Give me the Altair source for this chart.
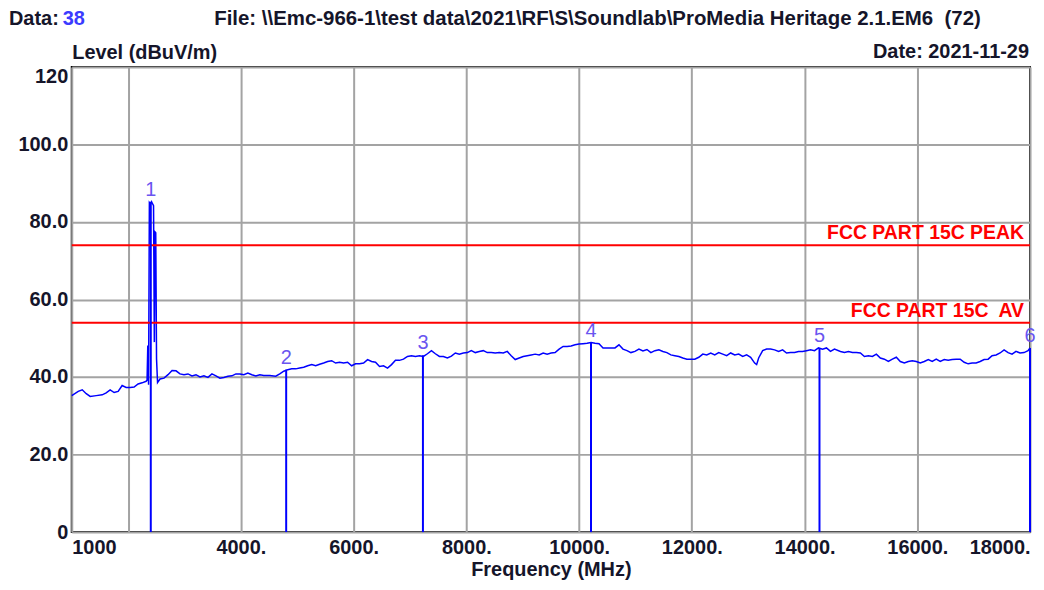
import altair as alt
import pandas as pd

# ---- data ----
freq_mhz = [
    1000, 1115, 1186, 1257, 1327, 1434, 1540, 1611, 1681, 1752, 1823, 1894, 1965, 2035, 2106, 2177, 2248, 2319,
    2336, 2349, 2363, 2377, 2398, 2416, 2434, 2451, 2465, 2478, 2490, 2504, 2522,
    2566, 2637, 2708, 2779, 2850, 2920, 2991, 3062, 3133, 3204, 3274, 3345, 3416, 3487, 3558, 3628, 3699, 3770,
    3841, 3912, 3982, 4053, 4124, 4195, 4265, 4336, 4407,
    4513, 4619, 4690, 4761, 4832, 4903, 4973, 5044, 5115, 5186, 5257, 5327, 5398, 5469, 5540, 5611, 5681, 5752,
    5823, 5894, 5965, 6035, 6106, 6177, 6248, 6319, 6389, 6460, 6531, 6602, 6673, 6743, 6814, 6885, 6956, 7027,
    7097, 7168, 7239, 7310, 7381, 7451, 7522, 7593, 7664, 7735, 7805,
    7876, 7947, 8018, 8089, 8159, 8230, 8301, 8372, 8442, 8513, 8584, 8655, 8726, 8796, 8867, 8938, 9009, 9080,
    9150, 9221, 9292, 9363, 9434, 9504, 9575, 9646, 9717, 9788, 9858, 9929, 10000, 10071, 10142, 10212, 10283,
    10354, 10425, 10496, 10566, 10637, 10708, 10779, 10850, 10920, 10991, 11062,
    11133, 11204, 11274, 11345, 11416, 11487, 11558, 11628, 11699, 11770, 11841, 11912, 11982, 12053, 12124,
    12195, 12265, 12336, 12407, 12478, 12549, 12619, 12690, 12761, 12832, 12903, 12973, 13044, 13115, 13150,
    13186, 13257, 13327, 13398, 13469, 13540, 13611, 13681, 13752, 13823, 13894, 13965, 14035, 14106, 14177,
    14248, 14319, 14389, 14460, 14531,
    14637, 14708, 14779, 14850, 14920, 14991, 15062, 15133, 15204, 15274, 15345, 15416, 15487, 15558, 15628,
    15699, 15770, 15841, 15912, 15982, 16053, 16124, 16195, 16265, 16336, 16407, 16478, 16549, 16619, 16690,
    16761, 16832, 16903, 16973, 17044, 17115, 17186, 17257, 17327, 17398, 17469, 17540, 17611, 17681, 17752,
    17823, 17894, 17965, 18000,
]
level_dbuv = [
    35.2, 36.3, 36.7, 35.7, 35.0, 35.2, 35.4, 35.9, 36.7, 36.0, 36.3, 37.8, 37.3, 37.3, 37.4, 38.2, 38.5, 38.9,
    39.2, 48.1, 38.0, 85.0, 84.6, 85.2, 84.7, 84.2, 49.0, 77.4, 77.2, 44.7, 38.6,
    39.5, 39.7, 40.6, 41.7, 41.6, 40.8, 40.6, 40.8, 40.3, 40.6, 40.0, 40.3, 39.9, 40.8, 40.3, 39.7, 39.9, 40.2,
    40.3, 40.8, 40.8, 40.6, 41.0, 40.6, 40.3, 40.6, 40.4,
    40.4, 40.2, 40.8, 41.5, 41.9, 42.1, 42.1, 42.3, 42.5, 42.9, 43.2, 42.9, 43.3, 43.6, 44.0, 44.2, 43.6, 43.8,
    43.6, 43.8, 42.9, 43.4, 43.4, 43.6, 44.5, 44.0, 43.8, 42.7, 42.9, 42.3, 43.2, 44.3, 44.3, 44.6, 45.3, 45.5,
    45.3, 45.5, 45.3, 46.0, 46.8, 46.0, 45.3, 45.3, 44.9, 45.4, 46.2,
    45.9, 46.2, 46.3, 46.8, 46.3, 46.6, 46.8, 46.3, 46.3, 46.2, 46.3, 46.2, 46.6, 45.5, 44.5, 44.9, 45.3, 45.5,
    45.7, 45.9, 45.7, 46.2, 45.9, 46.2, 46.3, 47.2, 47.9, 47.9, 48.0, 48.3, 48.5, 48.6, 48.7, 48.9, 48.7,
    48.6, 47.5, 47.5, 47.5, 47.5, 48.3, 47.2, 46.8, 46.3, 46.6, 47.2,
    46.7, 47.1, 46.3, 46.8, 47.0, 46.6, 46.3, 45.7, 45.5, 45.3, 44.9, 44.6, 44.6, 44.6, 45.1,
    45.9, 45.7, 46.2, 45.7, 46.3, 45.9, 45.5, 46.2, 45.7, 45.9, 45.3, 45.7, 45.1, 43.6, 43.2,
    44.9, 46.8, 47.2, 47.2, 47.0, 46.6, 47.0, 46.2, 46.3, 46.3, 46.6, 46.6, 46.8, 47.0, 46.8,
    47.5, 47.2, 47.5, 46.6, 47.2,
    46.6, 46.3, 46.6, 46.3, 46.3, 46.2, 45.3, 45.5, 45.3, 45.9, 44.9, 44.6, 44.0, 44.6, 45.1,
    44.0, 43.6, 44.0, 44.2, 44.0, 43.6, 44.0, 44.5, 44.0, 44.6, 44.0, 44.5, 44.3, 44.5, 44.6,
    44.6, 43.8, 43.4, 43.6, 43.6, 44.0, 44.5, 44.6, 45.5, 45.7, 46.2, 47.0, 46.3, 45.9, 46.6,
    46.2, 46.3, 46.8, 47.5,
]

marker_ids = ["1", "2", "3", "4", "5", "6"]
marker_freq = [2402, 4804, 7230, 10212, 14265, 18000]
marker_level = [85.2, 41.9, 45.6, 48.9, 47.5, 47.5]

limit_names = ["FCC PART 15C PEAK", "FCC PART 15C\u00a0 AV"]
limit_level = [74.0, 54.0]

x_ticks = [1000, 2000, 4000, 6000, 8000, 10000, 12000, 14000, 16000, 18000]
y_ticks = [0, 20, 40, 60, 80, 100, 120]

header_data = "Data: "
header_data_no = "38"
header_file = r"File: \\Emc-966-1\test data\2021\RF\S\Soundlab\ProMedia Heritage 2.1.EM6" + "\u00a0 (72)"
header_date = "Date: 2021-11-29"

FONT = "Liberation Sans"
FS = 20
TXT = "#15152a"
BLUE = "#0000ff"
RED = "#ff0000"

spec = pd.DataFrame({"f": freq_mhz, "lvl": level_dbuv})
mk = pd.DataFrame({"id": marker_ids, "f": marker_freq, "lvl": marker_level})
lim = pd.DataFrame({"name": limit_names, "lvl": limit_level})
one = pd.DataFrame({"k": [0]})

xscale = alt.Scale(domain=[1000, 18000], nice=False, zero=False)
yscale = alt.Scale(domain=[0, 120], nice=False)

xaxis = alt.Axis(
    values=x_ticks,
    labelExpr="datum.value == 1000 ? '1000' : datum.value == 2000 ? '' : datum.value + '.'",
    labelAlign={
        "condition": [
            {"test": "datum.value == 1000", "value": "left"},
            {"test": "datum.value == 18000", "value": "right"},
        ],
        "value": "center",
    },
    labelFont=FONT, labelFontSize=FS, labelFontWeight="bold", labelColor=TXT,
    labelPadding=6, labelOverlap=False, labelBound=False, labelFlush=False,
    ticks=False, domain=False,
    grid=True, gridColor="#a3a3a3", gridWidth=2,
    title="Frequency (MHz)", titleFont=FONT, titleFontSize=FS, titleFontWeight="bold",
    titleColor=TXT, titleBaseline="alphabetic", titleY=44,
)
yaxis = alt.Axis(
    values=y_ticks,
    labelExpr="datum.value == 0 ? '0' : datum.value == 120 ? '120' : format(datum.value, '.1f')",
    labelBaseline={"condition": {"test": "datum.value == 120", "value": "top"}, "value": "middle"},
    labelFont=FONT, labelFontSize=FS, labelFontWeight="bold", labelColor=TXT,
    labelPadding=4, labelOverlap=False, labelBound=False, labelFlush=False,
    ticks=False, domain=False,
    grid=True, gridColor="#a3a3a3", gridWidth=2,
    title="Level (dBuV/m)", titleFont=FONT, titleFontSize=FS, titleFontWeight="bold",
    titleColor=TXT, titleAngle=0, titleAlign="left", titleBaseline="alphabetic",
    titleX=0, titleY=-8,
)

line = alt.Chart(spec).mark_line(color=BLUE, strokeWidth=1.5, interpolate="linear").encode(
    x=alt.X("f:Q", scale=xscale, axis=xaxis),
    y=alt.Y("lvl:Q", scale=yscale, axis=yaxis),
)

limits = alt.Chart(lim).mark_rule(color=RED, strokeWidth=2).encode(
    y=alt.Y("lvl:Q", scale=yscale),
)
limit_text = alt.Chart(lim).mark_text(
    color=RED, font=FONT, fontSize=19.5, fontWeight="bold", align="right", baseline="alphabetic", dy=-6
).encode(
    x=alt.value(956),
    y=alt.Y("lvl:Q", scale=yscale),
    text="name:N",
)

markers = alt.Chart(mk).mark_rule(color=BLUE, strokeWidth=2).encode(
    x=alt.X("f:Q", scale=xscale),
    y=alt.Y("lvl:Q", scale=yscale),
    y2=alt.datum(0),
)
marker_text = alt.Chart(mk).mark_text(
    color="#6a55f0", font=FONT, fontSize=FS, align="center", baseline="alphabetic", dy=-6
).encode(
    x=alt.X("f:Q", scale=xscale),
    y=alt.Y("lvl:Q", scale=yscale),
    text="id:N",
)

def header(txt, x, y, align="left", color=TXT, size=FS):
    return alt.Chart(one).mark_text(
        text=txt, font=FONT, fontSize=size, fontWeight="bold", color=color,
        align=align, baseline="alphabetic",
    ).encode(x=alt.value(x), y=alt.value(y))

h1 = header(header_data, -63, -42)
h2 = header(header_data_no, -9, -42, color="#3b3bff")
h3 = header(header_file, 143, -42, size=20.5)
h4 = header(header_date, 961, -9, align="right")

chart = alt.layer(
    line, limits, limit_text, markers, marker_text, h1, h2, h3, h4
).properties(
    width=962, height=467,
    autosize=alt.AutoSizeParams(type="none"),
    padding={"left": 64, "top": 58, "right": 6, "bottom": 48},
    background="white",
).configure_view(stroke="#000000", strokeWidth=2)

chart.save("out.html", embed_options={"renderer": "svg", "actions": False})
